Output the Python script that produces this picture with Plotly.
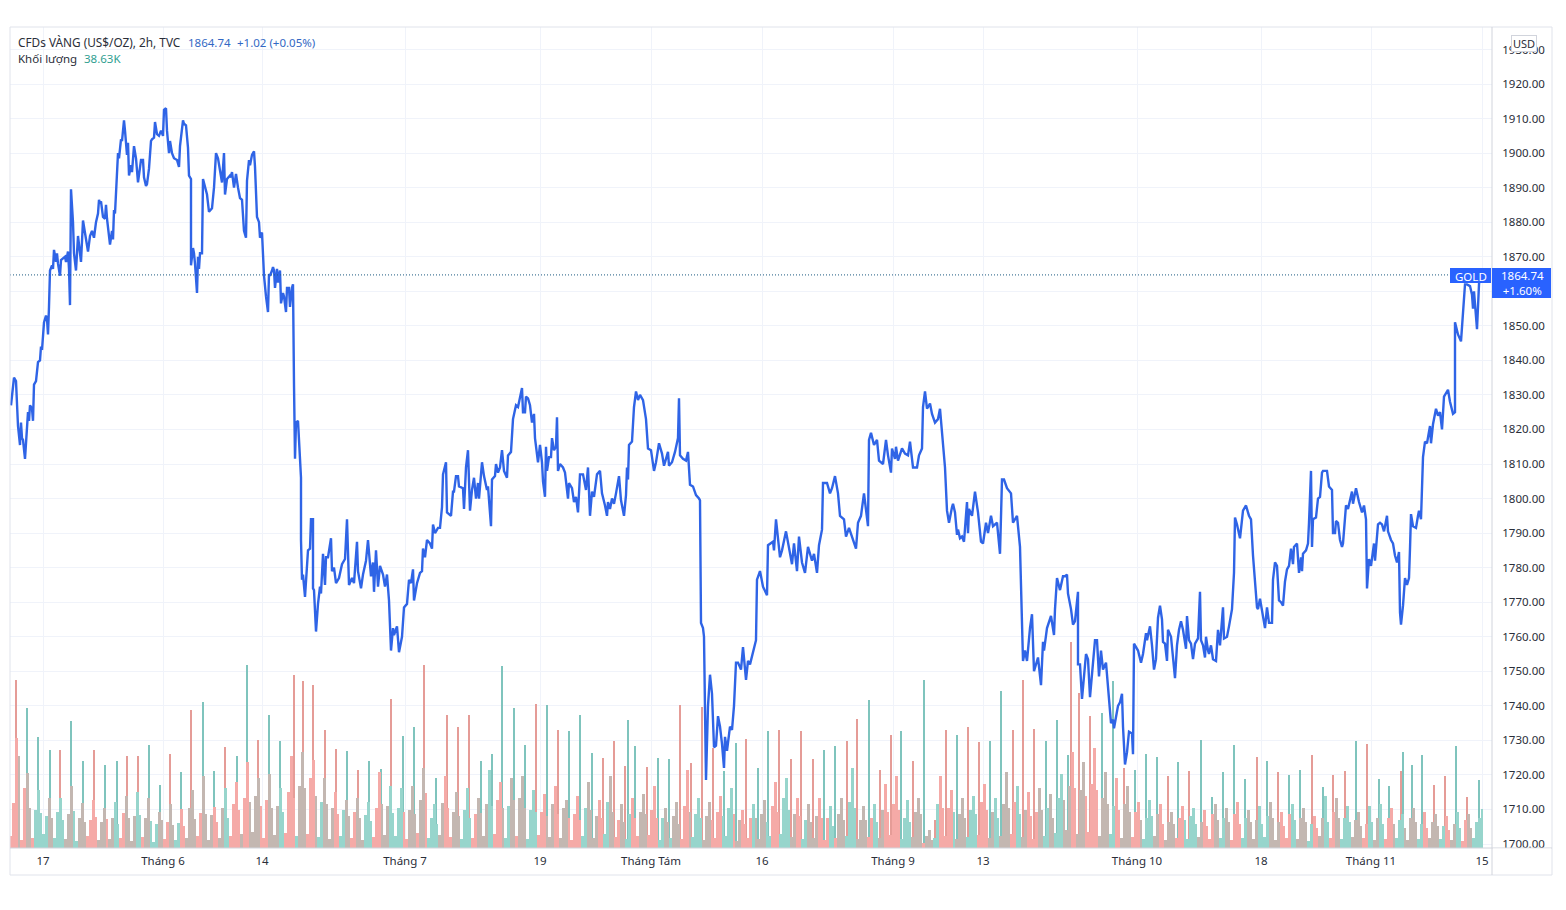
import plotly.graph_objects as go

# (bar number, close), one list per stretch of the line
close_may = [
    (11, 1827), (13, 1833.5), (14, 1835), (16, 1834), (17, 1824), (18, 1821), (20, 1815.5), (21, 1822),
    (22, 1817.5), (23, 1817), (25, 1811.5), (27, 1822), (28, 1825), (29, 1822.5), (30, 1827), (32, 1826),
    (33, 1822.5), (34, 1833), (36, 1834), (38, 1839.5), (40, 1840), (41, 1844), (42, 1843), (44, 1851),
    (46, 1853), (47, 1852), (48, 1847.5), (49, 1855.5), (50, 1866), (52, 1867.5), (53, 1866.5), (54, 1872),
    (56, 1868.5), (57, 1871), (58, 1868), (60, 1864.5), (61, 1869), (63, 1869.5), (65, 1870), (66, 1868.5),
    (68, 1871.5), (69, 1866.5), (70, 1856), (71, 1889.5), (73, 1880), (74, 1871), (76, 1866), (78, 1876),
    (79, 1874), (81, 1868.5), (83, 1880.5), (84, 1878.5), (86, 1876), (88, 1871.5), (90, 1876), (92, 1877.5),
    (94, 1875.5), (96, 1880), (98, 1882.5), (99, 1886.5), (100, 1885.5), (101, 1886), (103, 1881.5),
    (105, 1881), (106, 1885), (107, 1881), (110, 1873.5), (112, 1877.5), (113, 1875), (114, 1883.5),
    (115, 1882.5), (116, 1889.5), (118, 1900), (119, 1898.5), (121, 1904), (122, 1903.5), (124, 1909.5),
    (125, 1906.5), (127, 1899.5), (128, 1903), (129, 1893.5), (131, 1896.5), (132, 1894.5), (134, 1902),
    (136, 1898.5), (138, 1891.5), (139, 1894), (141, 1898), (143, 1898), (144, 1893), (146, 1890.5),
    (147, 1891), (149, 1895.5), (151, 1903.5), (152, 1904), (154, 1904.5), (155, 1909), (157, 1905.5),
    (159, 1905), (161, 1906.5), (163, 1905), (164, 1912.5), (166, 1913), (167, 1906.5), (169, 1900),
    (170, 1903.5), (172, 1900), (174, 1898.5), (177, 1898), (179, 1896), (180, 1902), (183, 1909.5),
    (184, 1908.5), (186, 1908), (188, 1901.5), (189, 1893.5), (191, 1892.5), (191, 1867.5), (193, 1872.5),
    (194, 1871), (195, 1868), (197, 1859.5), (198, 1870), (199, 1866.5), (200, 1871), (202, 1871),
    (203, 1892.5), (204, 1891.5), (207, 1888), (209, 1883), (212, 1884), (214, 1890), (216, 1900),
    (218, 1898.5), (221, 1894), (222, 1891.5), (224, 1900), (225, 1888), (227, 1892.5), (230, 1893.5),
    (231, 1893), (232, 1894.5), (234, 1890), (236, 1894), (238, 1890), (240, 1887), (242, 1886.5),
    (244, 1877.5), (246, 1875.5), (247, 1892), (249, 1898), (250, 1896.5), (252, 1899.5), (254, 1900.5),
    (255, 1896), (257, 1881.5), (259, 1880), (260, 1875.5), (262, 1877), (263, 1872), (264, 1864.5),
    (266, 1858.5), (268, 1854), (269, 1865), (270, 1864.5), (272, 1866), (273, 1867), (274, 1866),
    (275, 1861), (277, 1866.5), (278, 1862.5), (280, 1866), (281, 1856.5), (283, 1859.5), (284, 1858.5),
    (286, 1854), (287, 1861), (289, 1861), (290, 1855.5), (292, 1861), (293, 1862), (294, 1833),
    (295, 1811.5), (296, 1822), (298, 1822.5),
]
close_jun = [
    (301, 1806), (301, 1788), (302, 1776.5), (303, 1778), (305, 1771.5), (308, 1785), (310, 1785.5),
    (311, 1794), (313, 1794), (313, 1774), (314, 1773.5), (316, 1761.5), (318, 1769.5), (320, 1774.5),
    (321, 1772.5), (323, 1784), (325, 1775), (326, 1783), (328, 1783), (331, 1788.5), (332, 1779),
    (334, 1780), (336, 1775.5), (339, 1777), (342, 1781), (345, 1782.5), (347, 1794), (349, 1775),
    (352, 1777), (354, 1775.5), (357, 1787.5), (358, 1779), (361, 1774), (363, 1778), (366, 1782),
    (368, 1788), (371, 1777.5), (373, 1781.5), (374, 1773), (376, 1785), (378, 1774.5), (380, 1780.5),
    (383, 1778), (385, 1774.5), (387, 1778), (389, 1770.5), (391, 1756), (393, 1762.5), (394, 1760.5),
    (397, 1763), (399, 1755.5), (402, 1760), (404, 1768.5), (407, 1769.5), (409, 1776.5), (411, 1775.5),
    (413, 1779.5), (414, 1770.5), (417, 1775.5), (420, 1778.5), (422, 1779), (423, 1785.5), (425, 1783),
    (427, 1788), (430, 1787), (432, 1785.5), (433, 1792.5), (435, 1790), (438, 1791.5), (440, 1791.5),
    (442, 1797.5), (443, 1807), (446, 1810.5), (447, 1796), (451, 1795), (453, 1802), (454, 1802),
    (456, 1806.5), (458, 1806.5), (459, 1803.5), (463, 1803), (464, 1797), (466, 1809), (468, 1814),
    (470, 1796.5), (472, 1802.5), (474, 1806), (476, 1800), (478, 1804.5), (479, 1800), (482, 1810.5),
    (484, 1806.5), (487, 1802.5), (488, 1803.5), (491, 1792), (492, 1805.5), (495, 1806.5), (496, 1810),
    (498, 1807.5), (500, 1809), (502, 1814), (504, 1808), (507, 1806), (508, 1812.5), (511, 1813.5),
    (513, 1823), (516, 1827), (518, 1826.5), (522, 1832), (523, 1825), (525, 1825), (526, 1829.5),
    (528, 1829), (530, 1827), (532, 1822), (534, 1824.5), (535, 1817.5), (537, 1812), (538, 1810.5),
    (540, 1815.5), (542, 1810.5), (543, 1805), (545, 1800.5), (546, 1815), (547, 1808), (549, 1812),
    (551, 1812), (552, 1817.5), (554, 1814), (556, 1815), (557, 1823.5), (558, 1808), (560, 1810),
    (563, 1809), (565, 1807.5), (568, 1800), (569, 1804.5), (572, 1803), (574, 1799), (576, 1800.5),
    (578, 1796), (580, 1807), (583, 1807), (586, 1802.5), (588, 1809), (590, 1795), (592, 1802),
    (594, 1800.5), (597, 1807), (600, 1808), (602, 1801.5), (605, 1798), (607, 1795), (608, 1799),
    (610, 1797), (612, 1800), (614, 1798.5), (616, 1801.5), (619, 1806.5), (621, 1799.5), (624, 1795),
    (626, 1801), (627, 1809), (628, 1805.5), (629, 1815.5), (632, 1816.5), (634, 1826.5), (636, 1831),
    (638, 1828.5), (640, 1830), (643, 1828.5), (646, 1823), (648, 1814.5), (651, 1814), (653, 1810.5),
    (654, 1808), (656, 1810.5), (659, 1816), (662, 1813), (664, 1809.5), (666, 1811.5), (668, 1813.5),
    (669, 1809.5), (672, 1810.5), (675, 1813.5), (678, 1817.5), (679, 1829), (680, 1812.5), (683, 1811.5),
    (686, 1811), (688, 1813.5), (689, 1809), (690, 1804), (693, 1803.5), (696, 1801), (699, 1800),
    (700, 1799.5),
]
close_aug = [
    (701, 1764), (703, 1762.5), (704, 1760), (706, 1718.5), (708, 1740), (710, 1749), (712, 1743.5),
    (714, 1728), (716, 1728.5), (718, 1737), (720, 1734), (722, 1729), (724, 1722), (725, 1731),
    (727, 1727), (730, 1734), (732, 1733), (734, 1740), (736, 1752.5), (738, 1752.5), (741, 1750.5),
    (743, 1757), (746, 1747.5), (748, 1753), (750, 1752), (753, 1756), (756, 1759), (757, 1776.5),
    (760, 1779), (763, 1774.5), (767, 1772), (768, 1786.5), (773, 1787.5), (774, 1785), (776, 1794),
    (780, 1783), (782, 1785), (786, 1790.5), (788, 1787.5), (792, 1781), (794, 1787), (797, 1779),
    (799, 1789), (802, 1781.5), (805, 1778.5), (808, 1786), (812, 1782), (814, 1784), (817, 1778.5),
    (819, 1786.5), (822, 1791), (823, 1804.5), (827, 1804.5), (830, 1801.5), (832, 1803), (835, 1806.5),
    (838, 1801.5), (840, 1795), (844, 1794), (846, 1789), (849, 1791.5), (852, 1789), (856, 1785.5),
    (858, 1793), (861, 1795), (864, 1801.5), (868, 1792), (869, 1817), (871, 1819), (874, 1815.5),
    (877, 1817), (879, 1811), (883, 1810), (886, 1817), (888, 1812.5), (891, 1807.5), (892, 1814.5),
    (895, 1811.5), (896, 1815), (898, 1811), (902, 1814.5), (905, 1813), (908, 1812.5), (910, 1816.5),
    (913, 1809), (917, 1809), (919, 1812.5), (922, 1814.5), (923, 1826.5), (925, 1831), (927, 1826),
    (930, 1827.5), (932, 1824.5), (935, 1822), (938, 1823), (940, 1826), (942, 1818), (945, 1809),
    (947, 1796.5), (949, 1793), (952, 1797.5), (953, 1798.5), (955, 1796), (957, 1789.5), (958, 1791),
    (960, 1788.5), (962, 1789), (964, 1787.5), (967, 1799), (968, 1790), (969, 1797), (972, 1795),
    (975, 1802), (978, 1796), (981, 1787.5), (983, 1787), (986, 1793), (988, 1790), (991, 1795),
    (993, 1792), (997, 1793), (1000, 1784), (1002, 1805.5), (1004, 1805.5), (1007, 1803), (1011, 1801.5),
    (1013, 1793), (1017, 1795), (1020, 1786), (1023, 1753), (1025, 1756), (1027, 1753), (1030, 1762.5),
    (1032, 1766.5), (1034, 1750), (1038, 1754), (1041, 1746), (1043, 1758.5), (1044, 1756), (1047, 1762.5),
    (1051, 1766), (1054, 1760.5), (1055, 1768), (1057, 1777), (1060, 1773.5), (1063, 1777.5), (1065, 1777.5),
    (1067, 1778), (1068, 1772.5), (1071, 1768), (1073, 1763.5), (1075, 1764.5), (1078, 1773), (1078, 1752),
    (1080, 1752), (1082, 1742), (1086, 1755), (1088, 1753.5), (1090, 1742.5), (1092, 1749.5),
]
close_oct = [
    (1095, 1759), (1097, 1759), (1099, 1748.5), (1101, 1756), (1103, 1750.5), (1106, 1752.5), (1108, 1746),
    (1111, 1735), (1113, 1736), (1114, 1733.5), (1118, 1740), (1120, 1741), (1122, 1743.5), (1123, 1734),
    (1125, 1723), (1127, 1726.5), (1129, 1732.5), (1132, 1732), (1133, 1726), (1134, 1758), (1138, 1756),
    (1141, 1752.5), (1143, 1755), (1146, 1761), (1147, 1759), (1150, 1763), (1152, 1757.5), (1154, 1750.5),
    (1156, 1753.5), (1158, 1765.5), (1160, 1769), (1162, 1765), (1163, 1758.5), (1165, 1758), (1167, 1753),
    (1168, 1762), (1171, 1760), (1173, 1754.5), (1175, 1748), (1177, 1757.5), (1179, 1762), (1181, 1764.5),
    (1183, 1762), (1186, 1756.5), (1187, 1766), (1189, 1759), (1191, 1758), (1193, 1753.5), (1195, 1758),
    (1198, 1759.5), (1200, 1773), (1201, 1759), (1203, 1757.5), (1205, 1754), (1206, 1760), (1208, 1756),
    (1209, 1755), (1211, 1757.5), (1213, 1753.5), (1216, 1753), (1218, 1762), (1220, 1757.5), (1223, 1768.5),
    (1224, 1759.5), (1227, 1760), (1229, 1763), (1232, 1768), (1234, 1778.5), (1235, 1794.5), (1237, 1792.5),
    (1240, 1788.5), (1243, 1796.5), (1246, 1798), (1248, 1796), (1249, 1795), (1251, 1794), (1253, 1783.5),
    (1257, 1768.5), (1258, 1768), (1260, 1771), (1262, 1767), (1265, 1762.5), (1267, 1768.5), (1269, 1764),
    (1272, 1764), (1273, 1776.5), (1275, 1781.5), (1277, 1780.5), (1279, 1770.5), (1281, 1770), (1283, 1769),
    (1285, 1776), (1287, 1779.5), (1289, 1780.5), (1291, 1785.5), (1293, 1781), (1294, 1786), (1297, 1787),
    (1299, 1778.5), (1301, 1783), (1302, 1779), (1303, 1784), (1306, 1785), (1308, 1787), (1309, 1793),
    (1311, 1808), (1312, 1786), (1313, 1794), (1316, 1794.5), (1318, 1800), (1320, 1800.5), (1322, 1807.5),
    (1323, 1808), (1327, 1808), (1329, 1803.5), (1332, 1802.5), (1333, 1790), (1335, 1790), (1336, 1793.5),
    (1338, 1793), (1340, 1788), (1342, 1786), (1343, 1787), (1346, 1798), (1348, 1797), (1352, 1802),
    (1353, 1798.5), (1356, 1803), (1359, 1799), (1361, 1796.5), (1362, 1796), (1364, 1798), (1366, 1794),
    (1367, 1774), (1369, 1782.5), (1371, 1780.5), (1373, 1785), (1374, 1787), (1375, 1782), (1378, 1792.5),
    (1380, 1793), (1382, 1792.5), (1384, 1790.5), (1387, 1795), (1388, 1790.5), (1391, 1788), (1393, 1787),
    (1395, 1783.5), (1397, 1781.5), (1399, 1784.5), (1400, 1767), (1401, 1763.5), (1403, 1769), (1405, 1777),
    (1407, 1775), (1409, 1777), (1410, 1785.5), (1411, 1795.5), (1413, 1792), (1416, 1791.5), (1418, 1795),
    (1419, 1796.5), (1421, 1794), (1423, 1812), (1425, 1816.5), (1427, 1816), (1430, 1821), (1431, 1816),
    (1433, 1821.5), (1436, 1826), (1438, 1824), (1440, 1825), (1442, 1820), (1444, 1829.5), (1448, 1831.5),
    (1450, 1828), (1453, 1824.5), (1455, 1825), (1455, 1851), (1458, 1847.5), (1461, 1845.5), (1465, 1862),
    (1467, 1862), (1470, 1861.5), (1472, 1859), (1473, 1855), (1474, 1860), (1476, 1853.5), (1477, 1849),
    (1479, 1862), (1480, 1864.74),
]

# tallest volume bar of each session (thousands)
spike_bar = [
    16, 27, 38, 50, 60, 71, 83, 94, 105, 117, 127, 138, 149, 160, 170, 181, 191, 203, 214, 225,
    237, 247, 258, 269, 280, 294, 303, 313, 325, 336, 347, 358, 369, 381, 391, 403, 414, 424, 436, 447,
    458, 469, 481, 492, 502, 514, 525, 536, 547, 558, 569, 580, 592, 603, 614, 625, 628, 635, 647, 658,
    669, 680, 691, 702, 713, 724, 736, 746, 758, 768, 779, 791, 801, 813, 824, 835, 847, 857, 869, 880,
    891, 901, 913, 924, 935, 946, 957, 968, 979, 990, 1001, 1013, 1023, 1034, 1046, 1057, 1068, 1071, 1079, 1090,
    1102, 1113, 1124, 1135, 1146, 1157, 1168, 1178, 1189, 1201, 1212, 1223, 1234, 1245, 1257, 1267, 1278, 1289, 1300, 1312,
    1323, 1333, 1345, 1356, 1367, 1379, 1389, 1401, 1403, 1412, 1422, 1434, 1445, 1456, 1467, 1479,
]
spike_vol = [
    168, 140, 111, 98, 98, 127, 87, 98, 83, 87, 92, 92, 103, 63, 94, 76, 138, 146, 77, 101,
    92, 183, 108, 133, 107, 173, 167, 163, 118, 99, 97, 78, 87, 79, 149, 112, 121, 183, 70, 133,
    121, 133, 87, 94, 182, 140, 103, 144, 143, 118, 117, 133, 95, 90, 107, 82, 128, 102, 81, 90,
    89, 143, 85, 141, 100, 77, 105, 109, 80, 117, 118, 89, 117, 89, 98, 102, 107, 129, 148, 78,
    113, 117, 87, 168, 28, 118, 113, 121, 106, 107, 157, 118, 168, 119, 107, 128, 93, 206, 155, 132,
    135, 167, 80, 78, 94, 91, 72, 86, 77, 108, 51, 76, 103, 69, 91, 87, 76, 73, 78, 93,
    61, 73, 77, 107, 104, 69, 62, 77, 96, 83, 93, 63, 72, 102, 51, 68,
]
spike_side = (
    "rtttrttrttrrttrtrttr" "ttrttrrrrrtrttrttrtr" "rrtttttrtrtttrrrttrt" "trrrrttrttrrrrttrrtr"
    "rtrtrrtrrttrrrtttrrr" "ttrtttrtrtttttrtrttr" "trrtrttrtttrrtrt"
)

# the bars under the spikes, four per session (thousands), r/t = down/up, m = both in the slot
body_vol = [
    12, 45, 110, 92, 8, 60, 75, 40, 10, 38, 58, 35, 14, 32, 50, 30, 10, 36, 50, 28,
    9, 34, 62, 37, 7, 30, 45, 26, 12, 28, 48, 31, 8, 26, 40, 29, 9, 30, 46, 24,
    10, 35, 52, 30, 7, 32, 56, 33, 11, 30, 50, 27, 6, 24, 36, 28, 9, 26, 44, 23,
    8, 25, 39, 22, 10, 40, 58, 29, 12, 35, 72, 34, 8, 33, 41, 26, 10, 40, 60, 30,
    12, 44, 66, 38, 14, 50, 86, 46, 16, 52, 70, 42, 10, 48, 74, 40, 13, 42, 60, 36,
    15, 56, 92, 50, 12, 62, 96, 60, 14, 70, 88, 52, 11, 46, 70, 44, 9, 40, 56, 34,
    12, 38, 48, 32, 10, 36, 50, 30, 8, 33, 46, 27, 11, 40, 76, 44, 13, 42, 62, 35,
    12, 40, 60, 36, 9, 38, 62, 34, 15, 48, 80, 55, 10, 30, 44, 24, 13, 45, 72, 40,
    11, 36, 56, 32, 9, 38, 60, 30, 10, 34, 50, 35, 12, 44, 78, 42, 14, 48, 66, 40,
    10, 42, 70, 48, 12, 50, 72, 40, 9, 38, 58, 36, 13, 36, 54, 32, 11, 44, 62, 34,
    10, 40, 48, 30, 8, 34, 52, 28, 12, 40, 66, 38, 10, 32, 48, 30, 14, 46, 72, 36,
    11, 28, 44, 26, 9, 34, 50, 30, 12, 36, 54, 34, 13, 38, 62, 30, 8, 30, 40, 26,
    10, 32, 46, 24, 9, 42, 78, 36, 11, 34, 50, 30, 8, 32, 46, 28, 10, 36, 52, 32,
    12, 40, 60, 34, 7, 28, 38, 24, 10, 30, 44, 30, 9, 34, 48, 26, 12, 42, 66, 36,
    14, 50, 70, 38, 11, 34, 50, 32, 9, 28, 44, 26, 10, 32, 50, 30, 8, 30, 42, 22,
    10, 34, 50, 28, 12, 46, 80, 40, 9, 28, 42, 28, 11, 30, 44, 26, 10, 38, 64, 36,
    13, 44, 72, 38, 9, 30, 48, 26, 11, 36, 50, 34, 5, 12, 18, 8, 10, 44, 72, 40,
    12, 40, 58, 36, 9, 34, 50, 30, 11, 38, 52, 34, 13, 46, 64, 38, 10, 36, 50, 30,
    12, 44, 76, 40, 14, 46, 62, 34, 11, 38, 56, 32, 9, 36, 60, 38, 12, 40, 54, 30,
    15, 50, 74, 48, 18, 62, 96, 60, 14, 58, 86, 52, 16, 64, 100, 58, 12, 50, 76, 44,
    14, 42, 70, 38, 10, 44, 62, 36, 11, 36, 46, 28, 9, 30, 48, 32, 12, 34, 44, 24,
    8, 26, 36, 24, 10, 30, 42, 28, 9, 32, 40, 24, 11, 26, 38, 22, 9, 34, 44, 28,
    10, 30, 40, 26, 8, 34, 46, 24, 10, 30, 38, 26, 9, 28, 42, 24, 11, 32, 46, 30,
    8, 26, 36, 22, 10, 34, 44, 28, 9, 30, 40, 26, 7, 24, 32, 20, 12, 30, 52, 26,
    10, 36, 50, 30, 9, 30, 42, 26, 11, 28, 36, 22, 10, 24, 42, 26, 8, 30, 44, 24,
    9, 30, 40, 24, 10, 28, 34, 20, 8, 30, 40, 26, 9, 24, 36, 20, 10, 26, 34, 22,
    9, 22, 32, 18, 8, 24, 36, 20, 7, 28, 34, 20, 10, 26, 30, 38.63,
]
body_side = (
    "rrrmrrmmrtttttmmtttt" "mmmttmmmrrrrmmmrmmtt" "rrmmmmttrmmtttmmrrmm" "ttrrmmmmrrmmmmrrmmtt"
    "rrrrmrrmmmmrrrmmmmtt" "rrrrtmmmrrrmttmmmmrr" "ttmmrrmmmtttrrrmmmtt" "tttrrmmmrmmrttttmmrr"
    "rmmmttttrrmmmmttrrrm" "ttmmrmmmttttrrrmmmrr" "mmmrrrrrttmmmmrrttmm" "rrmmttrrrmmmrrrrttmm"
    "tmmmrrrmttttmmmrrrrt" "tttrmmrrrrtmmmmttrrr" "ttttmmrrttmmmmrrrrtt" "rmmmttttmmmmrrttmmrr"
    "rrrrttttmmmmrmmmttrr" "rrrtmmmmttttrrrrmmtt" "mmmmrrttmmrrrrmmttmm" "tttmmmrrmmmrrrrrmmmm"
    "ttrrmmmmrrrmttttmmrr" "mmmmrrrtttttmmrrrrmm" "ttmmrrrrttmmmmttttmm" "mmrrrrttmmmmttrrmmtt"
    "rrmmttttmmmmrrttmmtt" "rrrmtttmmmmmttrrmmmm" "ttrrmmttrrmmtttt"
)

tick_bar = [43, 163, 262, 405, 540, 651, 762, 893, 983, 1137, 1261, 1371, 1482]
tick_text = ["17", "Tháng 6", "14", "Tháng 7", "19", "Tháng Tám", "16", "Tháng 9", "13",
             "Tháng 10", "18", "Tháng 11", "15"]
price_ticks = [1700, 1710, 1720, 1730, 1740, 1750, 1760, 1770, 1780, 1790, 1800, 1810,
               1820, 1830, 1840, 1850, 1860, 1870, 1880, 1890, 1900, 1910, 1920, 1930]

last_price = 1864.74
last_change = 1.02
last_change_pct = 0.05
range_change_pct = 1.60
last_volume = "38.63K"

BLUE = "#2962ff"
LINE_BLUE = "#2f64e6"
SPIKE_TEAL = "#7fc4bd"
SPIKE_RED = "#e59c97"
BODY = {"r": "#f5aaa7", "t": "#97d5cc", "m": "#c3b7b1"}
GRID = "#f0f3fa"
BORDER = "#e0e3eb"
TEXT = "#2a2e39"
FONT = "Noto Sans"
W, H = 1566, 910
L, R, T, B = 10, 1492, 27, 848


def px(x):
    return (x - L) / (R - L)


def py(y):
    return (B - y) / (B - T)


points = close_may + close_jun + close_aug + close_oct
line_x = [p[0] for p in points]
line_y = [p[1] for p in points]

# four slots per 11-bar session, first session peaks at bar 16
body_x = [10.8 + i * 2.75 for i in range(len(body_vol))]

fig = go.Figure()
fig.add_trace(go.Bar(
    x=spike_bar, y=spike_vol, width=1.2,
    marker=dict(color=[SPIKE_RED if s == "r" else SPIKE_TEAL for s in spike_side], line_width=0),
    yaxis="y",
))
fig.add_trace(go.Bar(
    x=body_x, y=body_vol, width=2.75,
    marker=dict(color=[BODY[s] for s in body_side], line_width=0),
    yaxis="y",
))
fig.add_trace(go.Scatter(
    x=line_x, y=line_y, mode="lines", yaxis="y2",
    line=dict(color=LINE_BLUE, width=2.4),
))

# last price dotted line
fig.add_shape(type="line", xref="paper", yref="y2", x0=0, x1=1, y0=last_price, y1=last_price,
              line=dict(color="#1c5a80", width=1, dash="1px,2px"))
# chart frame and axis separators
fig.add_shape(type="rect", xref="paper", yref="paper", x0=px(10), x1=px(1552), y0=py(875), y1=py(27),
              line=dict(color=BORDER, width=1))
fig.add_shape(type="line", xref="paper", yref="paper", x0=1, x1=1, y0=py(875), y1=1,
              line=dict(color="#d1d4dc", width=1))
fig.add_shape(type="line", xref="paper", yref="paper", x0=0, x1=px(1552), y0=0, y1=0,
              line=dict(color="#d1d4dc", width=1))
# hides the lower edge of the 1700.00 label, as in the original
fig.add_shape(type="rect", xref="paper", yref="paper", x0=px(1493), x1=px(1551), y0=py(874), y1=py(848.5),
              fillcolor="white", line_width=0)
# last price badges
fig.add_shape(type="rect", xref="paper", yref="paper", x0=px(1450), x1=px(1491), y0=py(283), y1=py(268),
              fillcolor=BLUE, line_width=0)
fig.add_shape(type="rect", xref="paper", yref="paper", x0=px(1492), x1=px(1551), y0=py(298), y1=py(268),
              fillcolor=BLUE, line_width=0)


def label(x, y, text, color=TEXT, size=11.5, anchor="left", **kw):
    fig.add_annotation(xref="paper", yref="paper", x=px(x), y=py(y), text=text, showarrow=False,
                       xanchor=anchor, yanchor="middle", font=dict(family=FONT, size=size, color=color),
                       borderpad=0, **kw)


label(17, 42, "CFDs VÀNG (US$/OZ), 2h, TVC", size=11.8)
label(187, 42, f"{last_price:.2f}", color="#3268c4")
label(236, 42, f"+{last_change:.2f} (+{last_change_pct:.2f}%)", color="#3268c4")
label(17, 59, "Khối lượng")
label(83, 59, last_volume, color="#2f9e90")
label(1470.5, 276, "GOLD", color="white", anchor="center")
label(1522, 283, f"{last_price:.2f}<br>+{range_change_pct:.2f}%", color="white", anchor="center")
label(1524, 43, "USD", anchor="center", size=11, bgcolor="white", bordercolor="#d1d4dc", borderwidth=1,
      width=24, height=15)

fig.update_layout(
    width=W, height=H,
    margin=dict(l=L, r=W - R, t=T, b=H - B, pad=0),
    paper_bgcolor="white", plot_bgcolor="white",
    barmode="overlay", bargap=0, showlegend=False, hovermode=False,
    font=dict(family=FONT, size=11.5, color=TEXT),
    xaxis=dict(
        range=[L, R], tickmode="array", tickvals=tick_bar, ticktext=tick_text, tickangle=0,
        showgrid=True, gridcolor=GRID, gridwidth=1, zeroline=False, showline=False,
        ticks="outside", ticklen=2, tickcolor="rgba(0,0,0,0)",
    ),
    # volume sits on its own hidden scale at the bottom of the pane
    yaxis=dict(range=[0, B - T], visible=False, fixedrange=True),
    yaxis2=dict(
        range=[1700 - 4 / 3.4545, 1700 + (B - T - 4) / 3.4545], overlaying="y", side="right",
        tickmode="array", tickvals=price_ticks, ticktext=[f"{t:.2f}" for t in price_ticks],
        showgrid=True, gridcolor=GRID, gridwidth=1, zeroline=False, showline=False,
        ticks="outside", ticklen=7, tickcolor="rgba(0,0,0,0)",
    ),
)

fig.write_html("out.html", config=dict(displayModeBar=False),
               post_script="document.body.style.margin='0';document.body.style.overflow='hidden';")
